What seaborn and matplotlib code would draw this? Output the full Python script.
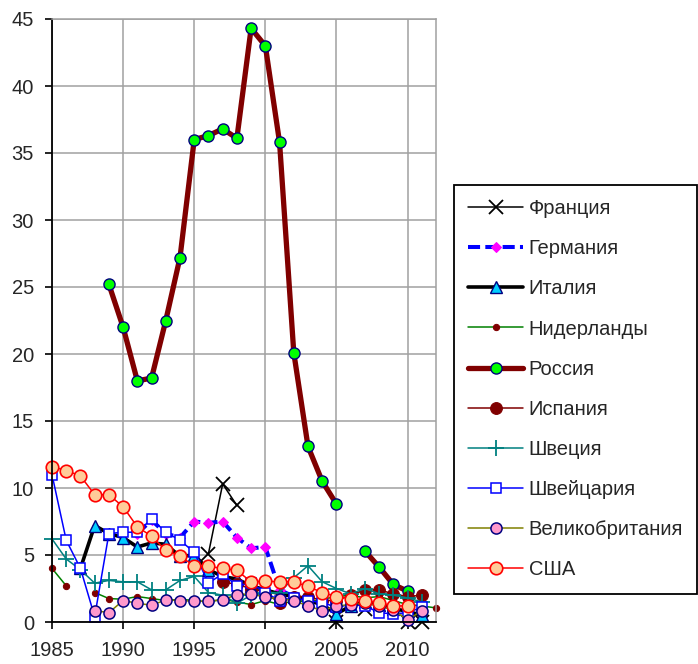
import numpy as np
import pandas as pd
import seaborn as sns
import matplotlib
matplotlib.use("Agg")
import matplotlib.pyplot as plt

nan = np.nan
years = list(range(1985, 2013))

# values, 1985..2012
france = [nan]*11 + [5.1, 10.3, 8.7] + [nan]*6 + [0.0, nan, 1.0, nan, nan, 0.0, 0.0, nan]
germany = [nan]*6 + [6.6, 7.6, 6.6, 6.3, 7.5, 7.4, 7.5, 6.3, 5.5, 5.6, 2.4, 1.9] + [nan]*10
italy = [nan, nan, 4.0, 7.2, 6.6, 6.3, 5.6, 5.9, 5.8, 4.9, 5.0, 3.9, 3.4, 3.2, 2.7, 2.4,
         2.1, 1.9, 1.6, 1.3, 0.6, 1.2, 1.5, 1.3, 1.0, 0.8, 0.5, nan]
netherlands = [4.0, 2.7, nan, 2.2, 1.75, 1.7, 1.9, 1.75, 1.6, 1.7, 1.6, 1.5, 1.7, 1.5, 1.3, 1.6,
               1.3, 1.6, 1.5, 1.7, 1.9, 2.0, 1.8, 1.9, 1.6, 1.3, 1.2, 1.05]
russia = [nan]*4 + [25.2, 22.0, 18.0, 18.2, 22.5, 27.2, 36.0, 36.3, 36.8, 36.1, 44.3, 43.0,
                    35.8, 20.1, 13.1, 10.5, 8.8, nan, 5.3, 4.1, 2.8, 2.3, nan, nan]
spain = [nan]*12 + [3.0, 2.8, 2.5, 2.2, 1.4, 1.9, 1.9, 1.6, 1.6, 2.0, 2.4, 2.4, 2.1, 1.9, 2.0, nan]
sweden = [6.2, 4.7, 3.9, 2.9, 3.1, 3.0, 3.0, 2.4, 2.4, 3.1, 3.4, 2.2, 2.0, 1.4, 2.0, 2.2,
          2.2, 3.3, 4.2, 3.0, 2.5, 2.1, 2.5, 2.1, 2.0, 1.8, 1.5, nan]
switzerland = [11.0, 6.1, 4.0, 0.4, 6.6, 6.7, 6.7, 7.7, 6.7, 6.1, 5.2, 2.9, 3.6, 2.7, 2.9, 2.2,
               1.6, 1.8, 1.6, 1.45, 1.1, 1.3, 1.2, 0.7, 0.6, 0.7, 1.1, nan]
uk = [nan]*3 + [0.85, 0.7, 1.6, 1.4, 1.25, 1.65, 1.6, 1.55, 1.55, 1.65, 2.05, 2.1, 1.85,
                1.75, 1.6, 1.2, 0.85, 1.2, 1.3, 1.4, 1.2, 0.9, 0.15, 0.85, nan]
usa = [11.6, 11.3, 10.9, 9.5, 9.5, 8.6, 7.1, 6.4, 5.35, 4.9, 4.2, 4.15, 4.0, 3.85, 3.0, 3.05,
       3.0, 3.0, 2.65, 2.2, 1.9, 1.75, 1.6, 1.45, 1.2, 1.2, nan, nan]

labels = ['Франция', 'Германия', 'Италия', 'Нидерланды', 'Россия',
          'Испания', 'Швеция', 'Швейцария', 'Великобритания', 'США']
series = [france, germany, italy, netherlands, russia, spain, sweden, switzerland, uk, usa]

styles = [
    dict(color='black', lw=1.1, marker='x', ms=10, mec='black', mew=1.3),
    dict(color='#0000ff', lw=2.9, ls=(0, (3, 1.3)), marker='D', ms=5, mfc='#ff00ff', mec='#ff00ff'),
    dict(color='black', lw=2.6, marker='^', ms=9, mfc='#00ccff', mec='#000080', mew=1.0),
    dict(color='#008000', lw=1.1, marker='o', ms=4.5, mfc='#800000', mec='#800000'),
    dict(color='#800000', lw=3.8, marker='o', ms=8, mfc='#00ff00', mec='#000080', mew=1.0),
    dict(color='#800000', lw=1.1, marker='o', ms=8.5, mfc='#800000', mec='#800000'),
    dict(color='#008080', lw=1.1, marker='+', ms=11, mec='#008080', mew=1.3),
    dict(color='#0000ff', lw=1.1, marker='s', ms=7.5, mfc='white', mec='#0000ff', mew=1.1),
    dict(color='#808000', lw=1.1, marker='o', ms=8, mfc='#ff99cc', mec='#000080', mew=1.1),
    dict(color='#ff0000', lw=1.1, marker='o', ms=9, mfc='#ffcc99', mec='#ff0000', mew=1.2),
]

sns.set_style("white")
plt.rcParams['font.family'] = ['Liberation Sans', 'DejaVu Sans']

fig = plt.figure(figsize=(6.98, 6.64), dpi=100)
ax = fig.add_axes([52/698, 1 - 622/664, (436-52)/698, (622-19)/664])

handles = []
for name, vals, st in zip(labels, series, styles):
    df = pd.DataFrame({'year': years, 'value': vals})
    seg = df['value'].isna().cumsum()
    first = None
    for _, part in df[df['value'].notna()].groupby(seg[df['value'].notna()]):
        sns.lineplot(data=part, x='year', y='value', ax=ax, legend=False, **st)
        if first is None:
            first = ax.lines[-1]
    handles.append(first)

for ln in ax.lines:
    ln.set_clip_on(False)

ax.set_xlim(1985, 2012)
ax.set_ylim(0, 45)
ax.set_xticks(range(1985, 2011, 5))
ax.set_yticks(range(0, 46, 5))
ax.set_xlabel('')
ax.set_ylabel('')
ax.grid(True, color='#a0a0a0', lw=1.1)
ax.set_axisbelow(True)
for s in ['top', 'right']:
    ax.spines[s].set_color('#a0a0a0')
    ax.spines[s].set_linewidth(1.1)
for s in ['left', 'bottom']:
    ax.spines[s].set_color('black')
    ax.spines[s].set_linewidth(1.3)
ax.tick_params(axis='both', direction='out', length=5, width=1.2, color='black',
               labelsize=14.5, bottom=True, left=True)
ax.tick_params(axis='y', pad=8)
ax.tick_params(axis='x', pad=9)

fig.legend(handles, labels, loc='upper left', bbox_to_anchor=(454/698, 1 - 185/664),
           borderaxespad=0, fontsize=14.5, frameon=True, fancybox=False, edgecolor='black',
           framealpha=1, labelspacing=1.05, handlelength=2.75, handletextpad=0.25,
           borderpad=0.7)
fig.legends[0].get_frame().set_linewidth(1.3)

fig.savefig('out.png', dpi=100)
